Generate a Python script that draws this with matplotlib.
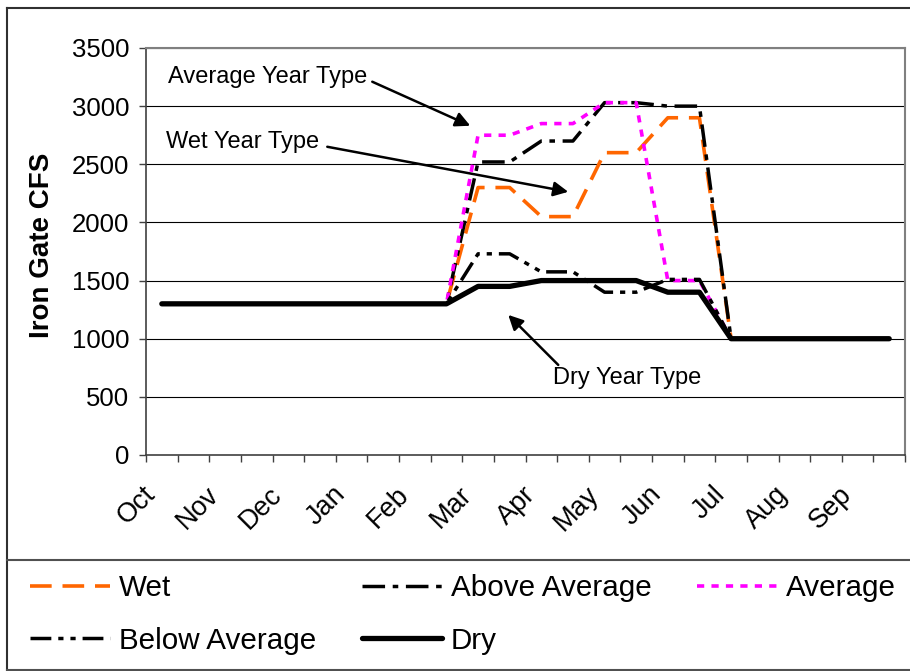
import numpy as np
import matplotlib
matplotlib.use("Agg")
import matplotlib.pyplot as plt
from matplotlib.lines import Line2D
from matplotlib.transforms import ScaledTranslation

plt.rcParams['font.family'] = ['Liberation Sans', 'DejaVu Sans']

# semi-monthly points, Oct 1 .. Sep 16
months = ["Oct", "Nov", "Dec", "Jan", "Feb", "Mar", "Apr", "May", "Jun", "Jul", "Aug", "Sep"]
wet = [1300]*10 + [2300, 2300, 2050, 2050, 2600, 2600, 2900, 2900] + [1000]*6
above_avg = [1300]*10 + [2520, 2520, 2700, 2700, 3030, 3030, 3000, 3000] + [1000]*6
average = [1300]*10 + [2750, 2750, 2850, 2850, 3030, 3030, 1500, 1500] + [1000]*6
below_avg = [1300]*10 + [1730, 1730, 1575, 1575, 1400, 1400, 1510, 1510] + [1000]*6
dry = [1300]*10 + [1450, 1450, 1500, 1500, 1500, 1500, 1400, 1400] + [1000]*6
y_ticks = [0, 500, 1000, 1500, 2000, 2500, 3000, 3500]

W, H = 910, 671
fig = plt.figure(figsize=(W/100, H/100), dpi=100)
ax = fig.add_axes([146/W, 1-455/H, (905-146)/W, (455-48)/H])

x = np.arange(len(dry))
l_wet, = ax.plot(x, wet, color='#FF6600', lw=2.6, linestyle=(0, (6, 3)), dash_capstyle='butt', label='Wet', zorder=3)
l_above, = ax.plot(x, above_avg, color='black', lw=2.5, linestyle=(0, (6.5, 2.2, 1.6, 2.2)), label='Above Average', zorder=3)
l_avg, = ax.plot(x, average, color='#FF00FF', lw=2.6, linestyle=(0, (2, 2)), label='Average', zorder=3)
l_below, = ax.plot(x, below_avg, color='black', lw=2.5, linestyle=(0, (6, 2, 1.5, 2, 1.5, 2)), label='Below Average', zorder=3)
l_dry, = ax.plot(x, dry, color='black', lw=3.8, solid_capstyle='round', solid_joinstyle='round', label='Dry', zorder=4)

ax.set_xlim(-0.5, len(dry) - 0.5)
ax.set_ylim(0, 3500)
ax.set_yticks(y_ticks)
ax.set_yticklabels([str(v) for v in y_ticks], fontsize=18.5)
for v in y_ticks[1:]:
    ax.axhline(v, color='black', lw=0.8, zorder=1)

ax.set_xticks(np.arange(-0.5, len(dry), 1.0))
ax.set_xticklabels([])
ax.set_xticks(np.arange(0, len(dry), 2), minor=True)
ax.set_xticklabels(months, minor=True, fontsize=19.5, rotation=45, ha='right', va='center', rotation_mode='anchor')
ax.tick_params(axis='x', which='major', direction='out', length=5, width=1, color='#404040')
ax.tick_params(axis='x', which='minor', length=0, pad=22)
ax.tick_params(axis='y', direction='out', length=5, width=1, color='#404040', pad=7)
for lab in ax.get_xticklabels(minor=True):
    lab.set_transform(lab.get_transform() + ScaledTranslation(-0.10, -0.05, fig.dpi_scale_trans))

for s in ['left', 'bottom']:
    ax.spines[s].set_color('#404040')
    ax.spines[s].set_linewidth(1.2)
for s in ['top', 'right']:
    ax.spines[s].set_color('#808080')
    ax.spines[s].set_linewidth(1.5)

fig.text(42/W, 1-245/H, 'Iron Gate CFS', rotation=90, fontsize=20, fontweight='bold', ha='center', va='center')

arrow = dict(arrowstyle='-|>', color='black', lw=1.8, mutation_scale=22, shrinkA=0, shrinkB=0)

def d(px, py):
    return ((px - 161.5) / 31.63, (455 - py) / 0.1162)

ax.text(*d(168, 77), 'Average Year Type', fontsize=17, ha='left', va='center')
ax.annotate('', xy=d(470, 126), xytext=d(372, 82), arrowprops=arrow)
ax.text(*d(166, 142), 'Wet Year Type', fontsize=17, ha='left', va='center')
ax.annotate('', xy=d(568, 192), xytext=d(327, 147), arrowprops=arrow)
ax.text(*d(553, 378), 'Dry Year Type', fontsize=17, ha='left', va='center')
ax.annotate('', xy=d(508, 315), xytext=d(558, 365), arrowprops=arrow)

handles = [l_wet, l_below, l_above, l_dry, l_avg]
fig.legend(handles=handles, labels=[h.get_label() for h in handles], ncol=3, loc='center left',
           bbox_to_anchor=(30/W, 1-614.5/H), frameon=False, fontsize=21.3, borderpad=0, borderaxespad=0,
           handlelength=2.7, handletextpad=0.3, columnspacing=1.55, labelspacing=0.82)

# chart / legend borders
bc = '#303030'
fig.add_artist(Line2D([7/W, 7/W], [1-8/H, 1-670/H], color=bc, lw=1.5))
fig.add_artist(Line2D([7/W, 1], [1-8/H, 1-8/H], color=bc, lw=1.5))
fig.add_artist(Line2D([7/W, 1], [1-560/H, 1-560/H], color='#505050', lw=1.5))
fig.add_artist(Line2D([7/W, 1], [1-669.5/H, 1-669.5/H], color='#505050', lw=1.5))

fig.savefig('out.png', dpi=100)
